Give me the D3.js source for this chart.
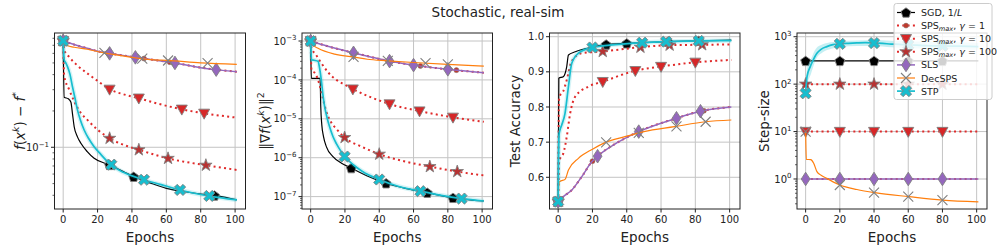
<!DOCTYPE html>
<html>
<head>
<meta charset="utf-8">
<script src="https://cdn.jsdelivr.net/npm/d3@7"></script>
<style>
  body { margin: 0; background: #fff; }
  text { font-family: "DejaVu Sans", sans-serif; fill: #222; }
</style>
</head>
<body>
<svg id="chart" width="997" height="249"></svg>
<script>
// ---- data ----
const xTicks = [0, 20, 40, 60, 80, 100];
const lossTicks = [0.1];
const gradTicks = [1e-7, 1e-6, 1e-5, 1e-4, 1e-3];
const accTicks = [0.6, 0.7, 0.8, 0.9, 1.0];
const stepTicks = [1, 10, 100, 1000];

// panel 1: f(x^k) - f*
const lossSGD = [[0,0.763],[0.6,0.26],[3,0.252],[4.5,0.236],[5.4,0.19],[6.4,0.148],[8.3,0.122],[10.3,0.108],[14,0.092],[18,0.081],[27,0.0714],[35,0.063],[41,0.057],[50,0.051],[60,0.0457],[70,0.043],[80,0.041],[90,0.0395],[101,0.0366]];
const lossSPS1 = [[0,0.763],[5,0.72],[10,0.685],[14,0.661],[20,0.625],[27,0.6],[42,0.556],[60,0.512],[65,0.5],[80,0.457],[89,0.44],[101,0.423]];
const lossSPS10 = [[0,0.763],[0.6,0.64],[3.5,0.56],[8,0.48],[14,0.41],[20,0.355],[27,0.302],[35,0.275],[44,0.255],[55,0.23],[68.5,0.207],[82,0.191],[101,0.176]];
const lossSPS100 = [[0,0.763],[0.6,0.39],[3.5,0.3],[6.4,0.24],[10,0.195],[14.2,0.168],[20,0.14],[26.8,0.119],[35,0.105],[44.3,0.095],[60.8,0.081],[83,0.071],[101,0.0649]];
const lossSLS = [[0,0.763],[5,0.72],[10,0.685],[14,0.661],[20,0.625],[27,0.6],[42,0.556],[60,0.512],[65,0.5],[80,0.457],[89,0.44],[101,0.423]];
const lossDec = [[0,0.763],[0.5,0.72],[1.5,0.704],[6.4,0.674],[14,0.649],[23,0.608],[30,0.585],[42,0.55],[53,0.53],[60,0.525],[80,0.5],[101,0.487]];
const lossSTP = [[0,0.763],[0.6,0.53],[1.5,0.5],[2.5,0.466],[4,0.4],[5.4,0.318],[7,0.25],[8.3,0.204],[10,0.168],[12.2,0.139],[15,0.117],[18,0.101],[22,0.087],[26.8,0.0737],[35,0.062],[46,0.0543],[57,0.049],[68,0.0443],[84.5,0.0396],[101,0.0366]];

// panel 2: ||grad f(x^k)||^2
const gradSGD = [[0,1e-3],[0.4,1.1e-4],[5.5,1.1e-4],[5.9,2e-5],[6.5,7e-6],[7.5,3.5e-6],[9.2,1.9e-6],[13,1.07e-6],[18,7.2e-7],[23.7,5.4e-7],[33,3.4e-7],[44,2.2e-7],[56,1.6e-7],[68,1.26e-7],[83,9.3e-8],[101,7.7e-8]];
const gradSPS1 = [[0,1e-3],[10,7.3e-4],[24.7,5e-4],[35,3.9e-4],[45,3.1e-4],[60,2.4e-4],[80,1.87e-4],[101,1.53e-4]];
const gradSPS10 = [[0,1e-3],[0.5,6.5e-4],[3,4.5e-4],[6,2.8e-4],[10,1.6e-4],[15,1e-4],[20,7.5e-5],[24.6,5.8e-5],[35,3.6e-5],[46,2.4e-5],[63.5,1.58e-5],[83,1.09e-5],[101,8.4e-6]];
const gradSPS100 = [[0,1e-3],[0.5,1.8e-4],[3,1.4e-4],[5,8e-5],[7,3.5e-5],[9,1.6e-5],[12,8e-6],[15,5.5e-6],[19.8,3.3e-6],[30,1.9e-6],[40,1.23e-6],[55,8e-7],[69.5,5.9e-7],[85.5,4.4e-7],[101,3.5e-7]];
const gradSLS = [[0,1e-3],[10,7.3e-4],[24.7,5e-4],[35,3.9e-4],[45,3.1e-4],[60,2.4e-4],[80,1.87e-4],[101,1.53e-4]];
const gradDec = [[0,1e-3],[2,7.5e-4],[4.3,6.5e-4],[14,4.6e-4],[25,3.9e-4],[33,3.4e-4],[45,3.1e-4],[60,2.8e-4],[80,2.5e-4],[101,2.27e-4]];
const gradSTP = [[0,1e-3],[0.5,3.3e-4],[2,3.2e-4],[4.3,3e-4],[5.2,2e-4],[6.2,1e-4],[7.2,4e-5],[8.2,2e-5],[9.5,1.1e-5],[11,6.3e-6],[13,3.5e-6],[15,2.3e-6],[17.5,1.5e-6],[19.8,1.07e-6],[25,6.5e-7],[30,4.5e-7],[40,2.75e-7],[50,1.9e-7],[64,1.38e-7],[76,1.08e-7],[88,8.9e-8],[101,7.7e-8]];

// panel 3: test accuracy
const accSGD = [[0,0.531],[0.4,0.882],[3,0.886],[5,0.915],[6,0.948],[10,0.957],[19.6,0.97],[28.3,0.978],[40,0.981],[60,0.985],[80,0.988],[101,0.99]];
const accSPS1 = [[0,0.531],[3,0.545],[8,0.564],[13.8,0.602],[19.6,0.644],[23,0.66],[35,0.7],[47,0.73],[69,0.768],[83,0.788],[101,0.8]];
const accSPS10 = [[0,0.531],[0.5,0.64],[1.2,0.654],[3,0.668],[5,0.715],[7,0.782],[9.9,0.829],[17.6,0.858],[26,0.872],[44.9,0.903],[60,0.915],[80,0.927],[101,0.934]];
const accSPS100 = [[0,0.531],[0.5,0.82],[1.2,0.834],[3,0.845],[5,0.877],[7.8,0.929],[13.7,0.953],[26,0.958],[48,0.97],[65,0.976],[84,0.977],[101,0.978]];
const accSLS = [[0,0.531],[3,0.545],[8,0.564],[13.8,0.602],[19.6,0.644],[23,0.66],[35,0.7],[47,0.73],[69,0.768],[83,0.788],[101,0.8]];
const accDec = [[0,0.531],[0.5,0.585],[1,0.588],[4,0.594],[6,0.621],[11.8,0.654],[20,0.68],[27,0.698],[40,0.717],[50,0.73],[67.8,0.744],[86,0.758],[101,0.763]];
const accSTP = [[0,0.531],[0.5,0.72],[1.1,0.735],[2.1,0.749],[4,0.782],[6,0.858],[7.9,0.924],[11.8,0.953],[19.6,0.969],[30,0.976],[49.3,0.983],[63.5,0.986],[82,0.988],[101,0.989]];

// panel 4: step-size
const stepSGD = [[0,309],[101,309]];
const stepSPS1 = [[0,1],[101,1]];
const stepSPS10 = [[0,10],[101,10]];
const stepSPS100 = [[0,100],[101,100]];
const stepSLS = [[0,1],[101,1]];
const stepDec = [[0,10],[0.4,2.6],[3,2.55],[4.7,2.14],[6.6,1.43],[9,1.2],[12.4,1.03],[20,0.747],[30,0.6],[40.5,0.514],[60.5,0.424],[80,0.36],[101,0.33]];
const stepSTP = [[0,64],[0.8,144],[2.7,234],[4,300],[6.6,448],[9,540],[12.4,618],[16,680],[20,707],[25,725],[30,740],[35,750],[40.5,733],[45,722],[50,700],[55,690],[59,672],[65,665],[70,650],[80,640],[90,630],[101,618]];
const stepSTPBandEpochs = [0, 1, 3, 6, 10, 15, 20, 30, 40, 50, 60, 70, 80, 90, 101];
const stepSTPBandHi = [70, 230, 330, 560, 690, 760, 800, 830, 850, 820, 800, 790, 770, 760, 740];
const stepSTPBandLo = [60, 100, 160, 330, 470, 560, 610, 640, 640, 600, 570, 560, 550, 540, 530];

// marker epochs per panel
const marksLoss = {sgd:[0,27,41,88], sps1:[0,47,62,89], sps10:[0,27,44,69,82], sps100:[0,27,44,61,83], sls:[0,27,42,65,89], dec:[0,24,46,61,84], stp:[0,28,47,68,85]};
const marksGrad = {sgd:[0,23.7,44,68,83], sps1:[0,64,85], sps10:[0,24.6,46,63.5,83], sps100:[0,19.8,40,69.5,85.5], sls:[0,25,46,60,80], dec:[0,25,45,67,80], stp:[0,19.8,40,64,88]};
const marksAcc = {sgd:[0,28,40,64,82], sps1:[0,20,85], sps10:[0,26,45,60,80], sps100:[0,26,48,65,84], sls:[0,23,47,69,83], dec:[0,28,47,69,86], stp:[0,20,49,63,82]};
const marksStep = {sgd:[0,20,40,60,80], sps1:[0,20,40,60,80], sps10:[0,20,40,60,80], sps100:[0,20,40,60,80], sls:[0,20,40,60,80], dec:[0,20,40,60,80], stp:[0,20,40,60,80]};

const seriesKeys = ['sgd', 'sps1', 'sps10', 'sps100', 'sls', 'dec', 'stp'];

// ---- styles ----
const EDGE = '#808080';
const styles = {
  sgd:    {color: '#000000', width: 1.2, dash: null,      marker: 'pentagon', fill: '#000000'},
  sps1:   {color: '#e02a2a', width: 2,   dash: '2,3.3',  marker: 'circle',   fill: '#c0392b'},
  sps10:  {color: '#e02a2a', width: 2,   dash: '2,3.3',  marker: 'tridown',  fill: '#d62728'},
  sps100: {color: '#e02a2a', width: 2,   dash: '2,3.3',  marker: 'star',     fill: '#b83232'},
  sls:    {color: '#9467bd', width: 1.5, dash: null,      marker: 'diamond',  fill: '#9467bd'},
  dec:    {color: '#ff7f0e', width: 1.2, dash: null,      marker: 'x',        fill: 'none'},
  stp:    {color: '#17becf', width: 1.7, dash: null,      marker: 'X',        fill: '#17becf'}
};

function markerPath(type) {
  if (type === 'pentagon') {
    const r = 5.2, pts = d3.range(5).map(k => {
      const a = (-90 + 72 * k) * Math.PI / 180;
      return [r * Math.cos(a), r * Math.sin(a) + 0.5];
    });
    return 'M' + pts.map(p => p.join(',')).join('L') + 'Z';
  }
  if (type === 'tridown') return 'M-5.5,-4.2L5.5,-4.2L0,5.8Z';
  if (type === 'diamond') return 'M0,-6.8L4.4,0L0,6.8L-4.4,0Z';
  if (type === 'star') return d3.symbol(d3.symbolStar, 48)();
  if (type === 'circle') return d3.symbol(d3.symbolCircle, 20)();
  if (type === 'x') return 'M-5,-5L5,5M-5,5L5,-5';
  if (type === 'X') {
    const r = 6, w = 1.9;
    const pts = [[w,r],[w,w],[r,w],[r,-w],[w,-w],[w,-r],[-w,-r],[-w,-w],[-r,-w],[-r,w],[-w,w],[-w,r]]
      .map(([a, b]) => [(a - b) * Math.SQRT1_2, (a + b) * Math.SQRT1_2]);
    return 'M' + pts.map(p => p.join(',')).join('L') + 'Z';
  }
}

function drawMarker(g, key, cx, cy) {
  const s = styles[key];
  const m = g.append('path').attr('d', markerPath(s.marker)).attr('transform', `translate(${cx},${cy})`);
  if (s.marker === 'x') m.attr('fill', 'none').attr('stroke', EDGE).attr('stroke-width', 1.1);
  else m.attr('fill', s.fill).attr('stroke', EDGE).attr('stroke-width', s.marker === 'circle' ? 0.5 : 0.9);
}

function valueAt(data, e, log) {
  let i = d3.bisector(d => d[0]).right(data, e) - 1;
  i = Math.max(0, Math.min(data.length - 2, i));
  const [x0, y0] = data[i], [x1, y1] = data[i + 1];
  const t = Math.max(0, Math.min(1, (e - x0) / (x1 - x0)));
  return log ? Math.exp(Math.log(y0) + t * (Math.log(y1) - Math.log(y0))) : y0 + t * (y1 - y0);
}

function rich(sel, parts, size) {
  let shift = 0;
  parts.forEach(p => {
    const target = p.sup ? -size * 0.42 : p.sub ? size * 0.22 : 0;
    const ts = sel.append('tspan').text(p.t);
    if (target - shift !== 0) ts.attr('dy', target - shift);
    shift = target;
    if (p.sup || p.sub) ts.attr('font-size', size * 0.7);
    if (p.it) ts.attr('font-style', 'italic');
  });
}

const svg = d3.select('#chart');
const TOP = 33, BOTTOM = 209;
const xDomain = [-5.05, 106.05];
const TICK_FS = 10, LABEL_FS = 13.5;

const panels = [
  {left: 54.5, right: 245.5, log: true, yDomain: [0.0308, 0.885], ticks: lossTicks, labelX: 25,
   label: [{t:'f', it:1},{t:'('},{t:'x', it:1},{t:'k', it:1, sup:1},{t:') − '},{t:'f', it:1},{t:'*', sup:1}],
   data: {sgd: lossSGD, sps1: lossSPS1, sps10: lossSPS10, sps100: lossSPS100, sls: lossSLS, dec: lossDec, stp: lossSTP}, marks: marksLoss},
  {left: 302, right: 492.5, log: true, yDomain: [4.8e-8, 1.607e-3], ticks: gradTicks, labelX: 270,
   label: [{t:'‖∇'},{t:'f', it:1},{t:'('},{t:'x', it:1},{t:'k', it:1, sup:1},{t:')‖'},{t:'2', sup:1}],
   data: {sgd: gradSGD, sps1: gradSPS1, sps10: gradSPS10, sps100: gradSPS100, sls: gradSLS, dec: gradDec, stp: gradSTP}, marks: marksGrad},
  {left: 549.5, right: 740, log: false, yDomain: [0.5098, 1.0105], ticks: accTicks, labelX: 520,
   label: [{t:'Test Accuracy'}],
   data: {sgd: accSGD, sps1: accSPS1, sps10: accSPS10, sps100: accSPS100, sls: accSLS, dec: accDec, stp: accSTP}, marks: marksAcc},
  {left: 797, right: 987, log: true, yDomain: [0.233, 1197], ticks: stepTicks, labelX: 769,
   label: [{t:'Step-size'}],
   data: {sgd: stepSGD, sps1: stepSPS1, sps10: stepSPS10, sps100: stepSPS100, sls: stepSLS, dec: stepDec, stp: stepSTP}, marks: marksStep,
   band: true}
];

panels.forEach((p, pi) => {
  const g = svg.append('g');
  const x = d3.scaleLinear().domain(xDomain).range([p.left, p.right]);
  const y = (p.log ? d3.scaleLog() : d3.scaleLinear()).domain(p.yDomain).range([BOTTOM, TOP]);

  // grid
  g.append('g').selectAll('line').data(xTicks).join('line')
    .attr('x1', d => x(d)).attr('x2', d => x(d)).attr('y1', TOP).attr('y2', BOTTOM)
    .attr('stroke', '#c4c4c4').attr('stroke-width', 1);
  g.append('g').selectAll('line').data(p.ticks).join('line')
    .attr('x1', p.left).attr('x2', p.right).attr('y1', d => y(d)).attr('y2', d => y(d))
    .attr('stroke', '#c4c4c4').attr('stroke-width', 1);

  const clipId = 'clip' + pi;
  svg.append('clipPath').attr('id', clipId).append('rect')
    .attr('x', p.left).attr('y', TOP).attr('width', p.right - p.left).attr('height', BOTTOM - TOP);
  const plot = g.append('g').attr('clip-path', `url(#${clipId})`);

  const line = d3.line().x(d => x(d[0])).y(d => y(d[1])).curve(d3.curveMonotoneX);

  seriesKeys.forEach(k => {
    const s = styles[k], data = p.data[k];
    if (k === 'stp') {
      if (p.band) {
        const band = d3.area().x((d, i) => x(stepSTPBandEpochs[i]))
          .y0((d, i) => y(stepSTPBandLo[i])).y1((d, i) => y(stepSTPBandHi[i])).curve(d3.curveMonotoneX);
        plot.append('path').datum(stepSTPBandHi).attr('d', band).attr('fill', s.color).attr('opacity', 0.25);
      } else {
        plot.append('path').datum(data).attr('d', line).attr('fill', 'none')
          .attr('stroke', s.color).attr('stroke-width', 4.5).attr('opacity', 0.18);
      }
    }
    const path = plot.append('path').datum(data).attr('d', line).attr('fill', 'none')
      .attr('stroke', s.color).attr('stroke-width', s.width);
    if (s.dash) path.attr('stroke-dasharray', s.dash);
    p.marks[k].forEach(e => drawMarker(plot, k, x(e), y(valueAt(data, e, p.log))));
  });

  // spines
  g.append('rect').attr('x', p.left).attr('y', TOP).attr('width', p.right - p.left).attr('height', BOTTOM - TOP)
    .attr('fill', 'none').attr('stroke', '#222').attr('stroke-width', 1);

  // x ticks
  xTicks.forEach(t => {
    g.append('line').attr('x1', x(t)).attr('x2', x(t)).attr('y1', BOTTOM).attr('y2', BOTTOM + 3.5).attr('stroke', '#222');
    g.append('text').attr('x', x(t)).attr('y', BOTTOM + 13.5).attr('text-anchor', 'middle')
      .attr('font-size', TICK_FS).text(t);
  });
  g.append('text').attr('x', (p.left + p.right) / 2).attr('y', 241.5).attr('text-anchor', 'middle')
    .attr('font-size', LABEL_FS).text('Epochs');

  // y ticks
  p.ticks.forEach(t => {
    g.append('line').attr('x1', p.left - 3.5).attr('x2', p.left).attr('y1', y(t)).attr('y2', y(t)).attr('stroke', '#222');
    const lab = g.append('text').attr('x', p.left - 5.5).attr('y', y(t) + 3.6).attr('text-anchor', 'end')
      .attr('font-size', TICK_FS);
    if (p.log) rich(lab, [{t: '10'}, {t: (Math.round(Math.log10(t)) < 0 ? '−' : '') + Math.abs(Math.round(Math.log10(t))), sup: 1}], TICK_FS);
    else lab.text(t.toFixed(1));
  });
  if (p.log) {
    const [lo, hi] = p.yDomain;
    for (let d = Math.floor(Math.log10(lo)); d <= Math.ceil(Math.log10(hi)); d++) {
      for (let m = 2; m <= 9; m++) {
        const v = m * Math.pow(10, d);
        if (v > lo && v < hi) g.append('line').attr('x1', p.left - 2).attr('x2', p.left)
          .attr('y1', y(v)).attr('y2', y(v)).attr('stroke', '#222').attr('stroke-width', 0.7);
      }
    }
  }
  const yl = g.append('text').attr('transform', `translate(${p.labelX},${(TOP + BOTTOM) / 2}) rotate(-90)`)
    .attr('text-anchor', 'middle').attr('font-size', LABEL_FS);
  rich(yl, p.label, LABEL_FS);
});

// title
svg.append('text').attr('x', 498).attr('y', 17).attr('text-anchor', 'middle').attr('font-size', 13.5)
  .text('Stochastic, real-sim');

// legend
const legendLabels = {
  sgd: [{t:'SGD, 1/'},{t:'L', it:1}],
  sps1: [{t:'SPS'},{t:'max', it:1, sub:1},{t:', '},{t:'γ', it:1},{t:' = 1'}],
  sps10: [{t:'SPS'},{t:'max', it:1, sub:1},{t:', '},{t:'γ', it:1},{t:' = 10'}],
  sps100: [{t:'SPS'},{t:'max', it:1, sub:1},{t:', '},{t:'γ', it:1},{t:' = 100'}],
  sls: [{t:'SLS'}],
  dec: [{t:'DecSPS'}],
  stp: [{t:'STP'}]
};
const lg = svg.append('g');
lg.append('rect').attr('x', 894).attr('y', 3.5).attr('width', 98).attr('height', 96).attr('rx', 2.5)
  .attr('fill', '#fff').attr('fill-opacity', 0.82).attr('stroke', '#cccccc');
seriesKeys.forEach((k, i) => {
  const s = styles[k], cy = 12.5 + i * 13.1;
  const ln = lg.append('line').attr('x1', 897).attr('x2', 915).attr('y1', cy).attr('y2', cy)
    .attr('stroke', s.color).attr('stroke-width', s.width);
  if (s.dash) ln.attr('stroke-dasharray', s.dash);
  drawMarker(lg, k, 906, cy);
  const t = lg.append('text').attr('x', 921).attr('y', cy + 3.5).attr('font-size', 9.5);
  rich(t, legendLabels[k], 9.5);
});
</script>
</body>
</html>
